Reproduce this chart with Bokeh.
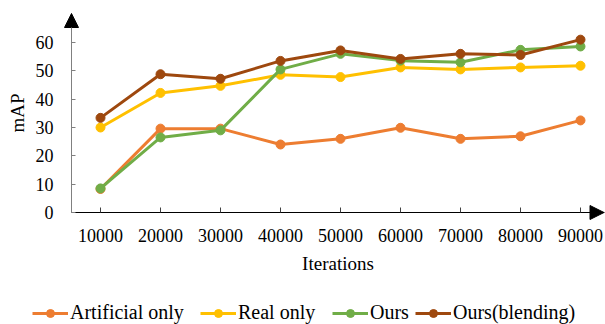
from bokeh.plotting import figure
from bokeh.models import Range1d, FixedTicker, Legend, LegendItem, Arrow, NormalHead
from bokeh.embed import file_html
from bokeh.resources import INLINE

iterations = [10000, 20000, 30000, 40000, 50000, 60000, 70000, 80000, 90000]
tick_labels = ["10000", "20000", "30000", "40000", "50000", "60000", "70000", "80000", "90000"]
y_ticks = [0, 10, 20, 30, 40, 50, 60]

artificial_only = [8.3, 29.6, 29.6, 24.0, 26.0, 29.9, 26.0, 26.9, 32.5]
real_only = [30.0, 42.2, 44.7, 48.6, 47.8, 51.2, 50.5, 51.2, 51.8]
ours = [8.5, 26.5, 29.0, 50.5, 56.0, 53.6, 53.0, 57.4, 58.6]
ours_blending = [33.4, 48.8, 47.2, 53.5, 57.2, 54.2, 56.0, 55.6, 61.0]

series_names = ["Artificial only", "Real only", "Ours", "Ours(blending)"]
series_values = [artificial_only, real_only, ours, ours_blending]
series_colors = ["#ED7D31", "#FFC000", "#70AD47", "#9E480E"]

FONT = "Liberation Serif"

# geometry (pixels); the frame covers the whole canvas
W, H = 605, 324
AX_X_PX, AX_Y_PX = 71, 212
PX_PER_X = 60 / 10000
PX_PER_Y = 170 / 60

x_start = 10000 - 100 / PX_PER_X
x_end = 10000 + (W - 100) / PX_PER_X
x_axis_pos = 10000 - (100 - AX_X_PX) / PX_PER_X
y_start = -(H - AX_Y_PX) / PX_PER_Y
y_end = AX_Y_PX / PX_PER_Y
y_arrow_tip = (AX_Y_PX - 13) / PX_PER_Y
x_arrow_tip = x_end - 1.5 / PX_PER_X

p = figure(width=W, height=H, output_backend="svg", toolbar_location=None,
           x_range=Range1d(x_start, x_end), y_range=Range1d(y_start, y_end),
           min_border=0)
p.outline_line_color = None
p.grid.visible = False
p.background_fill_color = "white"
p.border_fill_color = "white"

xa = p.xaxis[0]
xa.fixed_location = 0
xa.bounds = (x_axis_pos, x_arrow_tip)
xa.ticker = FixedTicker(ticks=iterations)
xa.major_label_overrides = {v: s for v, s in zip(iterations, tick_labels)}
xa.minor_tick_line_color = None
xa.major_tick_in = 5
xa.major_tick_out = 0
xa.axis_line_color = "black"
xa.major_tick_line_color = "#404040"
xa.major_label_text_font = FONT
xa.major_label_text_font_size = "18px"
xa.major_label_text_color = "black"
xa.major_label_standoff = 16
xa.axis_label = "Iterations"
xa.axis_label_text_font = FONT
xa.axis_label_text_font_size = "19px"
xa.axis_label_text_font_style = "normal"
xa.axis_label_text_color = "black"
xa.axis_label_standoff = 8

ya = p.yaxis[0]
ya.fixed_location = x_axis_pos
ya.bounds = (0, y_arrow_tip)
ya.ticker = FixedTicker(ticks=y_ticks)
ya.minor_tick_line_color = None
ya.major_tick_in = 4
ya.major_tick_out = 0
ya.axis_line_color = "#808080"
ya.major_tick_line_color = "#808080"
ya.major_label_text_font = FONT
ya.major_label_text_font_size = "18px"
ya.major_label_text_color = "black"
ya.major_label_standoff = 18
ya.axis_label = "mAP"
ya.axis_label_text_font = FONT
ya.axis_label_text_font_size = "19px"
ya.axis_label_text_font_style = "normal"
ya.axis_label_text_color = "black"
ya.axis_label_standoff = 5

# axis arrows
p.add_layout(Arrow(end=NormalHead(size=14, fill_color="black", line_color="black"),
                   x_start=x_axis_pos, y_start=y_arrow_tip - 6, x_end=x_axis_pos, y_end=y_arrow_tip,
                   line_color="#808080", line_width=1))
p.add_layout(Arrow(end=NormalHead(size=14, fill_color="black", line_color="black"),
                   x_start=x_arrow_tip - 2500, y_start=0, x_end=x_arrow_tip, y_end=0,
                   line_color="black", line_width=1))

legend_x = [32, 200, 332, 415]
for name, vals, col, lx in zip(series_names, series_values, series_colors, legend_x):
    r1 = p.line(iterations, vals, line_color=col, line_width=3)
    r2 = p.scatter(iterations, vals, marker="circle", size=9, fill_color=col, line_color=col)
    leg = Legend(items=[LegendItem(label=name, renderers=[r1, r2])],
                 location=(lx, 0), orientation="horizontal",
                 label_text_font=FONT, label_text_font_size="20px", label_text_color="black",
                 glyph_width=36, glyph_height=20, label_height=20, label_standoff=2,
                 padding=0, margin=0, spacing=0, border_line_color=None,
                 background_fill_alpha=0)
    p.add_layout(leg, "center")

open("out.html", "w").write(file_html(p, INLINE))
